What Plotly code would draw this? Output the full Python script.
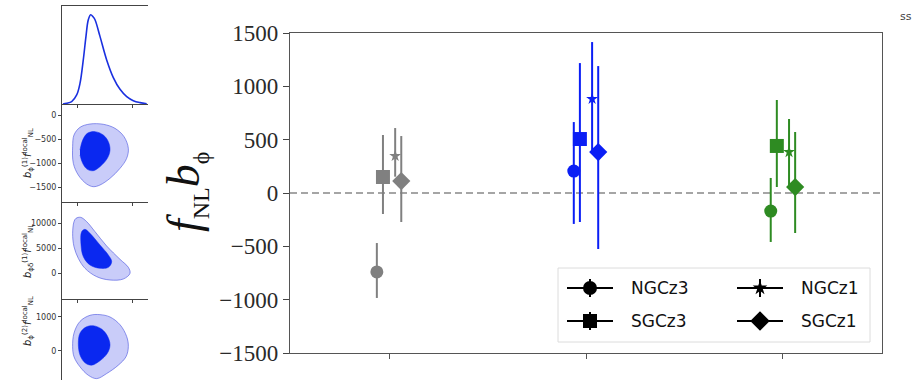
import plotly.graph_objects as go

W, H = 920, 380

# ---------------- main panel data ----------------
group_pos = [0, 1, 2]
group_colors = ['#808080', '#0a1ef5', '#2e8b22']
series_names = ['NGCz3', 'SGCz3', 'NGCz1', 'SGCz1']
series_symbols = ['circle', 'square', 'star', 'diamond']
series_offsets = [-0.062, -0.031, 0.031, 0.062]
series_sizes = [13, 14, 9, 14]

ngcz3_val = [-740, 206, -169]
ngcz3_up = [271, 459, 310]
ngcz3_dn = [244, 496, 290]

sgcz3_val = [150, 506, 441]
sgcz3_up = [394, 712, 431]
sgcz3_dn = [347, 778, 385]

ngcz1_val = [347, 882, 384]
ngcz1_up = [262, 533, 310]
ngcz1_dn = [194, 482, 324]

sgcz1_val = [112, 384, 56]
sgcz1_up = [422, 806, 516]
sgcz1_dn = [384, 909, 431]

series_vals = [ngcz3_val, sgcz3_val, ngcz1_val, sgcz1_val]
series_ups = [ngcz3_up, sgcz3_up, ngcz1_up, sgcz1_up]
series_dns = [ngcz3_dn, sgcz3_dn, ngcz1_dn, sgcz1_dn]

y_ticks = [-1500, -1000, -500, 0, 500, 1000, 1500]
y_ticktext = ['−1500', '−1000', '−500', '0', '500', '1000', '1500']

# ---------------- corner plot data ----------------
pdf_x = [-278, -209, -117, -24, 37, 98, 148, 191, 235, 278, 315, 407, 531, 654, 778, 902, 1024, 1148, 1272]
pdf_y = [0.0, 0.007, 0.024, 0.092, 0.21, 0.45, 0.69, 0.86, 0.91, 0.89, 0.86, 0.69, 0.45, 0.27, 0.15, 0.075, 0.034, 0.014, 0.003]

p1_out_x = [-99, -74, 37, 222, 469, 685, 852, 932, 901, 778, 593, 407, 284, 161, 6, -86, -99]
p1_out_y = [-660, -417, -257, -188, -194, -278, -451, -694, -903, -1111, -1319, -1458, -1493, -1438, -1250, -1007, -660]
p1_in_x = [37, 87, 173, 315, 469, 562, 593, 543, 407, 284, 173, 87, 37]
p1_in_y = [-729, -521, -382, -347, -417, -556, -729, -903, -1076, -1160, -1132, -1007, -833]

p2_out_x = [-74, -99, -74, 6, 130, 346, 593, 839, 963, 932, 778, 531, 315, 161, 49, -37, -74]
p2_out_y = [10333, 8000, 5333, 3000, 1000, -667, -1333, -1133, 0, 1200, 2800, 5467, 8333, 10333, 11200, 11000, 10333]
p2_in_x = [68, 56, 99, 222, 407, 562, 624, 562, 407, 222, 130, 68]
p2_in_y = [8333, 5667, 3333, 1667, 1000, 1200, 2333, 3667, 5667, 8000, 8800, 8333]

p3_out_x = [-99, -74, 37, 222, 407, 593, 778, 901, 932, 889, 747, 531, 346, 191, 37, -74, -99]
p3_out_y = [129, 525, 871, 1049, 1069, 1000, 772, 426, 129, -168, -416, -663, -812, -713, -465, -168, 129]
p3_in_x = [6, 37, 148, 284, 438, 543, 593, 543, 407, 253, 130, 37, 6]
p3_in_y = [228, 525, 703, 743, 644, 446, 178, -69, -287, -416, -347, -119, 228]

p1_ticks = [0, -500, -1000, -1500]
p1_ticktext = ['0', '−500', '−1000', '−1500']
p2_ticks = [0, 5000, 10000]
p2_ticktext = ['0', '5000', '10000']
p3_ticks = [0, 1000]
p3_ticktext = ['0', '1000']

fig = go.Figure()

# main error bars / markers
for si, name in enumerate(series_names):
    for gi, g in enumerate(group_pos):
        c = group_colors[gi]
        fig.add_trace(go.Scatter(
            x=[g + series_offsets[si]], y=[series_vals[si][gi]],
            mode='markers', showlegend=False,
            marker=dict(symbol=series_symbols[si], size=series_sizes[si], color=c, line=dict(width=0)),
            error_y=dict(type='data', symmetric=False, array=[series_ups[si][gi]],
                         arrayminus=[series_dns[si][gi]], color=c, thickness=2, width=0),
            xaxis='x', yaxis='y'))

# corner plot traces
OUT_FILL = 'rgba(40,50,230,0.25)'
OUT_LINE = 'rgba(60,70,220,0.7)'
IN_FILL = '#0a28f0'
fig.add_trace(go.Scatter(x=pdf_x, y=pdf_y, mode='lines', line=dict(color='#1a30e0', width=1.6, shape='spline'),
                         showlegend=False, xaxis='x2', yaxis='y2'))
for k, (ox, oy, ix, iy) in enumerate([(p1_out_x, p1_out_y, p1_in_x, p1_in_y),
                                       (p2_out_x, p2_out_y, p2_in_x, p2_in_y),
                                       (p3_out_x, p3_out_y, p3_in_x, p3_in_y)]):
    ax = str(k + 3)
    fig.add_trace(go.Scatter(x=ox, y=oy, mode='lines', fill='toself', fillcolor=OUT_FILL,
                             line=dict(color=OUT_LINE, width=0.8, shape='spline', smoothing=1.0),
                             showlegend=False, xaxis='x' + ax, yaxis='y' + ax))
    fig.add_trace(go.Scatter(x=ix, y=iy, mode='lines', fill='toself', fillcolor=IN_FILL,
                             line=dict(color=IN_FILL, width=0.5, shape='spline', smoothing=1.0),
                             showlegend=False, xaxis='x' + ax, yaxis='y' + ax))

# legend glyphs on a pixel overlay axis
leg_cx = [590, 590, 760, 760]
leg_cy = [288, 321, 288, 321]
leg_tx = [629, 629, 799, 799]
leg_sizes = [14, 14, 11, 15]
for i, name in enumerate(series_names):
    fig.add_trace(go.Scatter(
        x=[leg_cx[i]], y=[leg_cy[i]], mode='markers', showlegend=False,
        marker=dict(symbol=series_symbols[i], size=leg_sizes[i], color='black', line=dict(width=0)),
        error_x=dict(type='constant', value=23, color='black', thickness=2, width=0),
        error_y=dict(type='constant', value=9, color='black', thickness=2, width=0),
        xaxis='x6', yaxis='y6', cliponaxis=False))
    fig.add_annotation(x=leg_tx[i] / W, y=1 - leg_cy[i] / H, xref='paper', yref='paper',
                       text=name, showarrow=False, xanchor='left', yanchor='middle',
                       font=dict(family='DejaVu Sans', size=17, color='#111'))

# ---------------- layout ----------------
def px_x(p):
    return p / W

def px_y(p):
    return 1 - p / H

main_line = dict(showline=True, linecolor='#555', linewidth=1.2, mirror=True)
fig.update_layout(
    template='none',
    width=W, height=H, margin=dict(l=0, r=0, t=0, b=0, pad=0, autoexpand=False),
    paper_bgcolor='white', plot_bgcolor='rgba(0,0,0,0)',
    showlegend=False,
    xaxis=dict(domain=[px_x(290), px_x(882)], range=[-0.503, 2.503], anchor='y', automargin=False,
               tickvals=group_pos, showticklabels=False, ticks='outside', ticklen=5,
               tickcolor='#555', showgrid=False, zeroline=False, **main_line),
    yaxis=dict(domain=[px_y(353), px_y(33)], range=[-1500, 1500], anchor='x', automargin=False,
               tickvals=y_ticks, ticktext=y_ticktext, ticks='outside', ticklen=6, tickcolor='#444',
               tickfont=dict(family='Liberation Serif', size=23, color='#2a2a2a'),
               showgrid=False, zeroline=False, **main_line),
)

corner_x = dict(domain=[px_x(62), px_x(148)], range=[-296, 1296], tickvals=[0, 1000], automargin=False,
                showticklabels=False, ticks='outside', ticklen=3, tickcolor='#444',
                showgrid=False, zeroline=False, showline=True, linecolor='#444', linewidth=1)
corner_y = dict(ticks='outside', ticklen=3, tickcolor='#444', automargin=False,
                tickfont=dict(family='DejaVu Sans', size=8, color='#333'),
                showgrid=False, zeroline=False, showline=True, linecolor='#444', linewidth=1)
fig.update_layout(
    xaxis2=dict(anchor='y2', mirror=True, **corner_x),
    yaxis2=dict(domain=[px_y(104), px_y(6)], range=[0, 1], anchor='x2', showticklabels=False,
                ticks='', showgrid=False, zeroline=False, showline=True, linecolor='#444', linewidth=1,
                automargin=False),
    xaxis3=dict(anchor='y3', **corner_x),
    yaxis3=dict(domain=[px_y(202), px_y(104)], range=[-1812, 229], anchor='x3', tickvals=p1_ticks,
                ticktext=p1_ticktext, **corner_y),
    xaxis4=dict(anchor='y4', **corner_x),
    yaxis4=dict(domain=[px_y(299), px_y(202)], range=[-5133, 14267], anchor='x4', tickvals=p2_ticks,
                ticktext=p2_ticktext, **corner_y),
    xaxis5=dict(anchor='y5', **corner_x),
    yaxis5=dict(domain=[0, px_y(299)], range=[-853, 1529], anchor='x5', tickvals=p3_ticks,
                ticktext=p3_ticktext, **corner_y),
    xaxis6=dict(domain=[0, 1], range=[0, W], anchor='y6', visible=False, fixedrange=True, automargin=False),
    yaxis6=dict(domain=[0, 1], range=[H, 0], anchor='x6', visible=False, fixedrange=True, automargin=False),
)

# zero line
fig.add_shape(type='line', xref='x domain', yref='y', x0=0, x1=1, y0=0, y1=0,
              line=dict(color='#888', width=1.5, dash='7px,4px'), layer='below')
# legend frame
fig.add_shape(type='rect', xref='paper', yref='paper', x0=px_x(558), x1=px_x(870),
              y0=px_y(342), y1=px_y(268), line=dict(color='#dcdcdc', width=1),
              fillcolor='rgba(255,255,255,0.9)', layer='below')

# axis titles
fig.add_annotation(x=px_x(156), y=px_y(192), xref='paper', yref='paper', textangle=-90,
                   text=('<i>f</i><sub><span style="font-size:24px">NL</span></sub>'
                         '<i>b</i><sub><span style="font-size:24px">ϕ</span></sub>'),
                   showarrow=False,
                   font=dict(family='Liberation Serif', size=46, color='#111'))
corner_titles = [
    ('<i>b</i><sub>ϕ</sub><sup>(1)</sup><i>f</i><sup>local</sup><sub>NL</sub>', 153),
    ('<i>b</i><sub>ϕδ</sub><sup>(1)</sup><i>f</i><sup>local</sup><sub>NL</sub>', 251),
    ('<i>b</i><sub>ϕ</sub><sup>(2)</sup><i>f</i><sup>local</sup><sub>NL</sub>', 348),
]
for txt, cy in corner_titles:
    fig.add_annotation(x=px_x(19), y=px_y(cy), xref='paper', yref='paper', textangle=-90,
                       text=txt, showarrow=False, font=dict(family='DejaVu Sans', size=10, color='#222'))

fig.add_annotation(x=px_x(914), y=px_y(16), xref='paper', yref='paper', text='ss', showarrow=False,
                   xanchor='right', yanchor='middle', font=dict(family='DejaVu Sans', size=11, color='#444'))

fig.write_html('out.html')
